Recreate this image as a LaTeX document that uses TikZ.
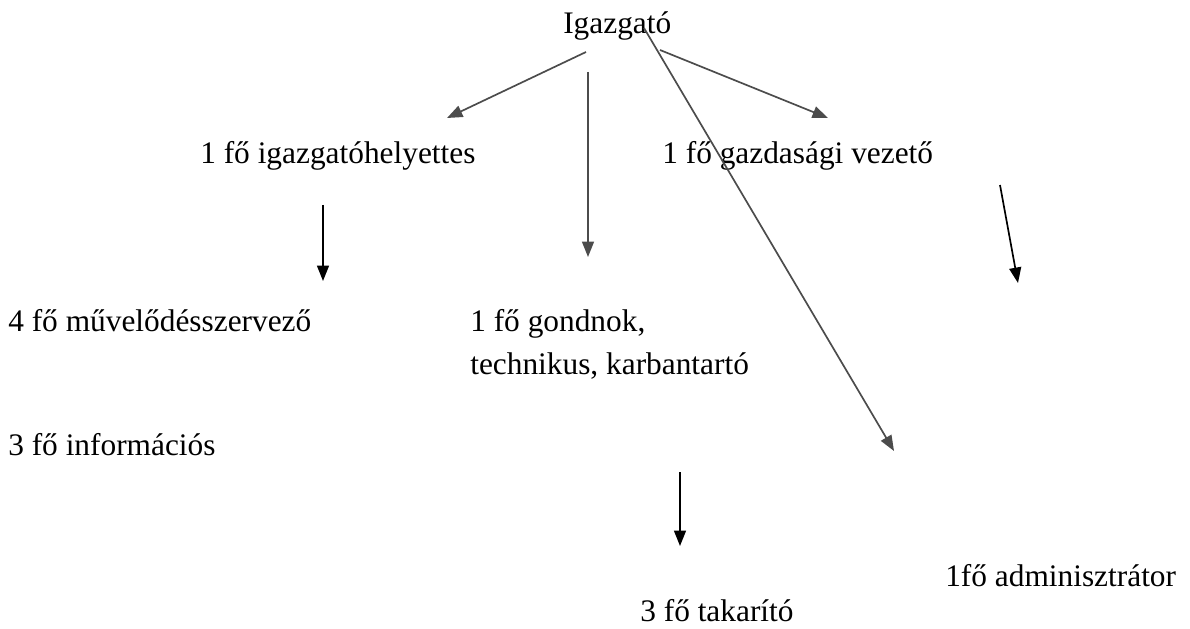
\documentclass[tikz,border=0pt]{standalone}
\usepackage{fontspec}
\setmainfont{Liberation Serif}
\usetikzlibrary{arrows.meta}
\begin{document}
\begin{tikzpicture}[x=0.025cm, y=-0.025cm, font=\fontsize{22.3}{27}\selectfont, line join=round,
	txt/.style={anchor=base west, inner sep=0pt},
	grayarr/.style={-{Triangle[length=11pt, width=8.5pt]}, draw=black!70, line width=1.2pt},
	blackarr/.style={-{Triangle[length=11pt, width=8.5pt]}, draw=black, line width=1.2pt}]
	\useasboundingbox (0,0) rectangle (1190,629);
	% Szövegek
	\node[txt] (ig) at (563,34) {Igazgató};
	\node[txt] (ih) at (200,164) {1 fő igazgatóhelyettes};
	\node[txt] (gv) at (662,164) {1 fő gazdasági vezető};
	\node[txt] (msz) at (8,331) {4 fő művelődésszervező};
	\node[txt] (gon) at (470,332) {1 fő gondnok,};
	\node[txt] (tech) at (470,374) {technikus, karbantartó};
	\node[txt] (inf) at (8,455) {3 fő információs};
	\node[txt] (adm) at (945,586) {1fő adminisztrátor};
	\node[txt] (tak) at (640,621) {3 fő takarító};
	% Nyilak végpontjai
	\coordinate (a1) at (586,52); \coordinate (b1) at (447,118);
	\coordinate (a2) at (588,72); \coordinate (b2) at (588,257);
	\coordinate (a3) at (660,50); \coordinate (b3) at (828,118);
	\coordinate (a4) at (644,28); \coordinate (b4) at (894,451);
	\coordinate (a5) at (323,205); \coordinate (b5) at (323,281);
	\coordinate (a6) at (1000,185); \coordinate (b6) at (1018,283);
	\coordinate (a7) at (680,472); \coordinate (b7) at (680,546);
	\draw[grayarr] (a1)--(b1);
	\draw[grayarr] (a2)--(b2);
	\draw[grayarr] (a3)--(b3);
	\draw[grayarr] (a4)--(b4);
	\draw[blackarr] (a5)--(b5);
	\draw[blackarr] (a6)--(b6);
	\draw[blackarr] (a7)--(b7);
\end{tikzpicture}
\end{document}
